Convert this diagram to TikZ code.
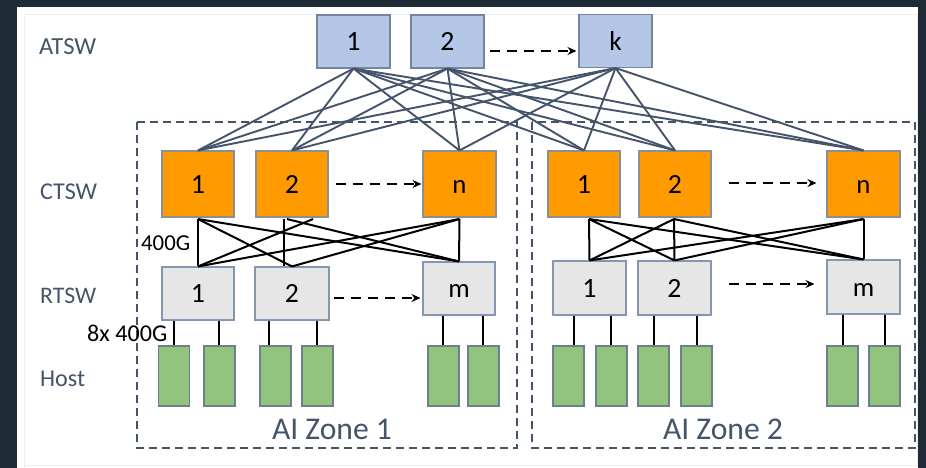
\documentclass[tikz,border=0pt]{standalone}
\usepackage{fontspec}
\usepackage{graphicx}
\setmainfont{Carlito}
\usetikzlibrary{calc,arrows.meta}
\definecolor{bgdark}{HTML}{1E2A35}
\definecolor{slate}{HTML}{44546A}
\definecolor{atswfill}{HTML}{B4C7E7}
\definecolor{atswline}{HTML}{7585A0}
\definecolor{ctswfill}{HTML}{FF9A00}
\definecolor{ctswline}{HTML}{8A8F96}
\definecolor{rtswfill}{HTML}{E7E6E6}
\definecolor{rtswline}{HTML}{8497B0}
\definecolor{hostfill}{HTML}{93C47D}
\definecolor{hostline}{HTML}{6B7F8F}
\definecolor{panelline}{HTML}{EEEEEE}
\newcommand{\digitlabel}[1]{\resizebox{!}{18pt}{#1}}
\newcommand{\smalllabel}[1]{\rule{0pt}{18pt}\resizebox{!}{13pt}{#1}}
\newcommand{\talllabel}[1]{\resizebox{!}{19pt}{#1}}
\tikzset{
  box/.style={rectangle, inner sep=0pt, line width=1.1pt, font=\fontsize{28}{28}\selectfont, text=black},
  atsw/.style={box, draw=atswline, fill=atswfill, minimum width=73pt, minimum height=53pt},
  ctsw/.style={box, draw=ctswline, fill=ctswfill, minimum width=72pt, minimum height=66pt},
  rtsw/.style={box, draw=rtswline, fill=rtswfill, minimum width=73pt, minimum height=53pt},
  hostbox/.style={rectangle, inner sep=0pt, draw=hostline, fill=hostfill, line width=1.1pt, minimum width=31pt, minimum height=60pt},
  uplink/.style={draw=slate, line width=1.9pt},
  downlink/.style={draw=black, line width=2pt},
  hostlink/.style={draw=black, line width=2pt},
  dasharrow/.style={draw=black, line width=2.2pt, dash pattern=on 10pt off 7pt, -{Stealth[length=9pt,width=8pt]}},
  zone/.style={draw=slate, line width=1.5pt, dash pattern=on 8pt off 5pt},
  layerlabel/.style={anchor=base west, inner sep=0pt, text=slate, font=\fontsize{23.5}{24}\selectfont},
  zonelabel/.style={anchor=base, inner sep=0pt, text=slate, font=\fontsize{30}{30}\selectfont},
  speed/.style={anchor=base west, inner sep=0pt, text=black, font=\fontsize{22}{22}\selectfont}
}
\begin{document}
\begin{tikzpicture}[x=1pt,y=-1pt]
\useasboundingbox (0,0) rectangle (926,468);
\fill[bgdark] (0,0) rectangle (926,468);
\fill[white] (17,7) rectangle (918,468);
\draw[panelline, line width=0.8pt] (24,468) -- (24,14) -- (917,14) -- (917,465) -- (24,465);

% zones
\draw[zone] (137,122) rectangle (517,448);
\draw[zone] (532,122) rectangle (915,448);
\node[zonelabel] (z1) at (332,439) {\resizebox{120pt}{!}{AI Zone 1}};
\node[zonelabel] (z2) at (723,439) {\resizebox{120pt}{!}{AI Zone 2}};

% layer labels
\node[layerlabel] (lA) at (39,55) {\resizebox{57pt}{!}{ATSW}};
\node[layerlabel] (lC) at (40,199) {\resizebox{57pt}{!}{CTSW}};
\node[layerlabel] (lR) at (40,303) {\resizebox{56pt}{!}{RTSW}};
\node[layerlabel] (lH) at (40,386) {\resizebox{45pt}{!}{Host}};

% ATSW
\node[atsw] (A1) at (353.5,41.5) {\digitlabel{1}};
\node[atsw] (A2) at (447.5,41.5) {\digitlabel{2}};
\node[atsw] (Ak) at (615.5,41) {\talllabel{k}};

% CTSW
\node[ctsw] (C11) at (198,184) {\digitlabel{1}};
\node[ctsw] (C12) at (292,184) {\digitlabel{2}};
\node[ctsw, minimum width=73pt] (C1n) at (459.5,184) {\smalllabel{n}};
\node[ctsw] (C21) at (584,184) {\digitlabel{1}};
\node[ctsw] (C22) at (675,184) {\digitlabel{2}};
\node[ctsw, minimum width=73pt] (C2n) at (863.5,184) {\smalllabel{n}};

% RTSW
\node[rtsw, minimum width=72pt] (R11) at (198,293.5) {\digitlabel{1}};
\node[rtsw, minimum width=74pt] (R12) at (292,293.5) {\digitlabel{2}};
\node[rtsw, minimum width=72pt] (R1m) at (459,288.5) {\smalllabel{m}};
\node[rtsw, minimum height=54pt] (R21) at (589.5,288) {\digitlabel{1}};
\node[rtsw, minimum height=54pt] (R22) at (674.5,288) {\digitlabel{2}};
\node[rtsw, minimum height=54pt] (R2m) at (863.5,287) {\smalllabel{m}};

% Hosts
\foreach \n/\x in {H11/174, H12/219.5, H13/275.5, H14/317.5, H15/443.5, H16/483.5,
                   H21/568.5, H22/611.5, H23/653.5, H24/696.5, H25/842.5, H26/884.5}
  \node[hostbox] (\n) at (\x,376) {};

% ATSW -> CTSW
\foreach \a in {A1,A2,Ak}
  \foreach \c in {C11,C12,C1n,C21,C22,C2n}
    \draw[uplink] (\a.south) -- (\c.north);

% CTSW -> RTSW
\foreach \c/\cx/\r/\rx in {C11/0/R11/0, C11/0/R12/0, C11/0/R1m/0,
                          C12/-8/R12/-8, C12/-5/R1m/0, C12/21/R11/0,
                          C1n/0/R1m/0, C1n/0/R11/0, C1n/0/R12/0,
                          C21/5/R21/0, C21/5/R22/0, C21/5/R2m/0,
                          C22/-1/R21/0, C22/-1/R22/0, C22/-1/R2m/0,
                          C2n/0/R21/0, C2n/0/R22/0, C2n/0/R2m/0}
  \draw[downlink] ($(\c.south)+(\cx,1.5)$) -- ($(\r.north)+(\rx,0)$);

% RTSW -> Host
\foreach \r/\h/\dx in {R11/H11/-24, R11/H12/21, R12/H13/-23, R12/H14/25, R1m/H15/-16, R1m/H16/24,
                       R21/H21/-15.5, R21/H22/21.5, R22/H23/-20.5, R22/H24/22.5, R2m/H25/-20.5, R2m/H26/21.5}
  \draw[hostlink] let \p1=($(\r.south)+(\dx,0)$), \p2=(\h.north) in (\x1,\y1) -- (\x1,\y2);

% dashed arrows
\draw[dasharrow] ($(A2.east)+(5,9.5)$) -- ($(Ak.west)+(-2,10)$);
\draw[dasharrow] ($(C12.east)+(7,0)$) -- ($(C1n.west)+(-1,0)$);
\draw[dasharrow] ($(C22.east)+(17,-1)$) -- ($(C2n.west)+(-10,-1)$);
\draw[dasharrow] ($(R12.east)+(4,4.5)$) -- ($(R1m.west)+(-2,9.5)$);
\draw[dasharrow] ($(R22.east)+(17,-4)$) -- ($(R2m.west)+(-12,-3)$);

% speed labels
\node[speed] (s1) at (141,250) {\resizebox{49pt}{!}{400G}};
\node[speed] (s2) at (87,341) {\resizebox{80pt}{!}{8x 400G}};
\end{tikzpicture}
\end{document}
